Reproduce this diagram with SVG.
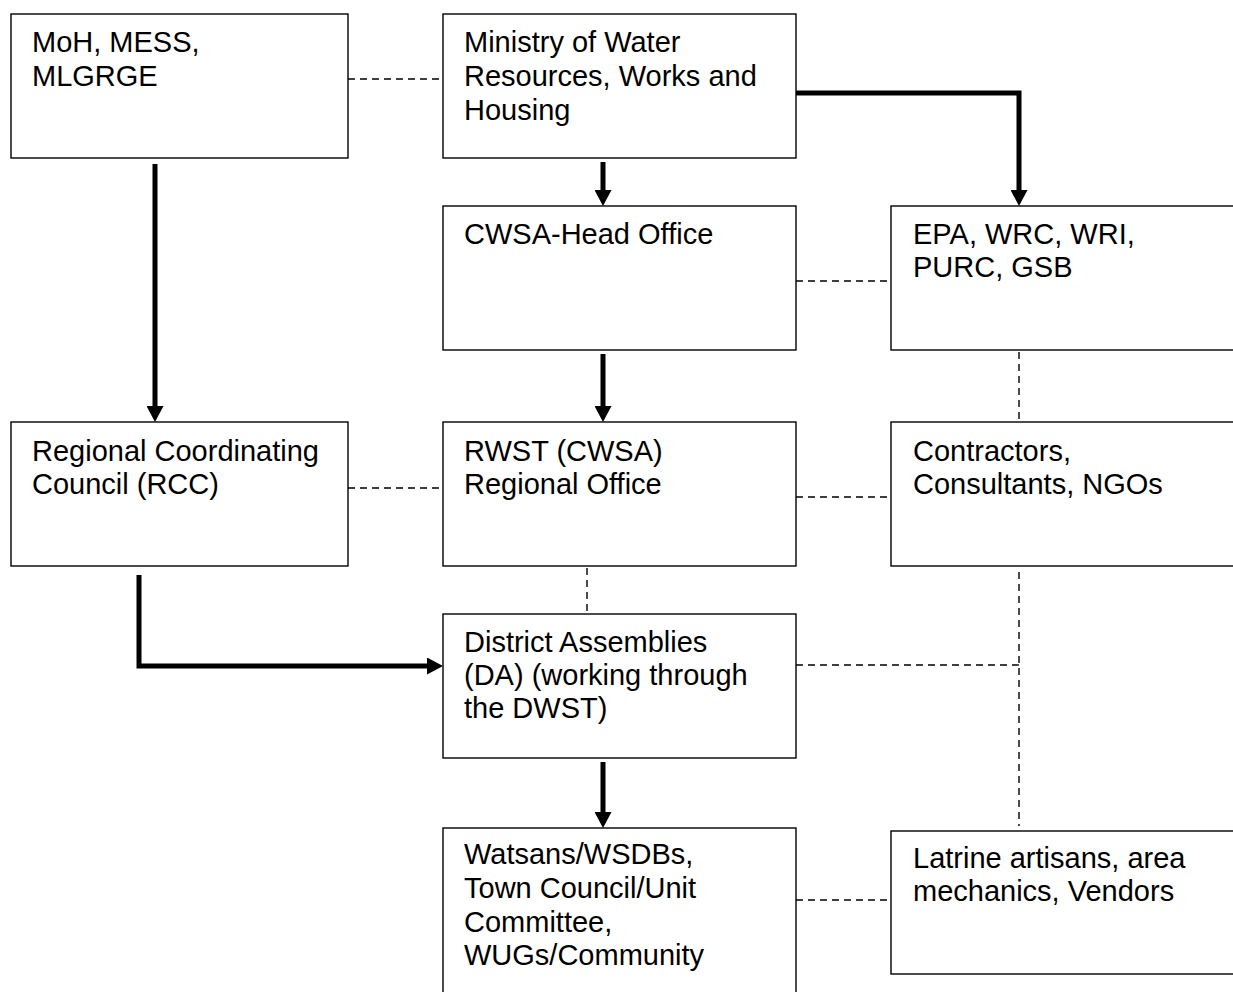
<svg xmlns="http://www.w3.org/2000/svg" width="1233" height="992" viewBox="0 0 1233 992">
<style>
.box{fill:#fff;stroke:#000;stroke-width:1.4}
.t{font-family:"Liberation Sans",Arial,sans-serif;font-size:29px;fill:#000}
.dash{fill:none;stroke:#000;stroke-width:1.4;stroke-dasharray:7 5}
.thick{fill:none;stroke:#000;stroke-width:5}
</style>
<defs>
<marker id="ah" viewBox="0 0 16 17" refX="6" refY="8.5" markerWidth="16" markerHeight="17" markerUnits="userSpaceOnUse" orient="auto">
<path d="M0,0 L16,8.5 L0,17 z" fill="#000"/>
</marker>
</defs>
<rect width="1233" height="992" fill="#fff"/>
<g id="connectors">
<line class="dash" x1="348" y1="79" x2="443" y2="79"/>
<line class="dash" x1="796" y1="281" x2="891" y2="281"/>
<line class="dash" x1="348" y1="488" x2="443" y2="488"/>
<line class="dash" x1="796" y1="497" x2="891" y2="497"/>
<line class="dash" x1="1019" y1="352" x2="1019" y2="422"/>
<line class="dash" x1="587" y1="568" x2="587" y2="614"/>
<line class="dash" x1="1019" y1="572" x2="1019" y2="826"/>
<line class="dash" x1="796" y1="665" x2="1019" y2="665"/>
<line class="dash" x1="796" y1="900" x2="891" y2="900"/>
<path class="thick" d="M796,93 L1019,93 L1019,196" marker-end="url(#ah)"/>
<path class="thick" d="M603,162 L603,196" marker-end="url(#ah)"/>
<path class="thick" d="M603,354 L603,412" marker-end="url(#ah)"/>
<path class="thick" d="M155,164 L155,412" marker-end="url(#ah)"/>
<path class="thick" d="M603,762 L603,818" marker-end="url(#ah)"/>
<path class="thick" d="M139,575 L139,666 L433,666" marker-end="url(#ah)"/>
</g>
<g id="moh">
<rect class="box" x="11" y="14" width="337" height="144"/>
<text class="t" x="32" y="52">MoH, MESS,</text>
<text class="t" x="32" y="86">MLGRGE</text>
</g>
<g id="ministry">
<rect class="box" x="443" y="14" width="353" height="144"/>
<text class="t" x="464" y="52">Ministry of Water</text>
<text class="t" x="464" y="86">Resources, Works and</text>
<text class="t" x="464" y="120">Housing</text>
</g>
<g id="cwsa">
<rect class="box" x="443" y="206" width="353" height="144"/>
<text class="t" x="464" y="244">CWSA-Head Office</text>
</g>
<g id="epa">
<rect class="box" x="891" y="206" width="360" height="144"/>
<text class="t" x="913" y="244">EPA, WRC, WRI,</text>
<text class="t" x="913" y="277">PURC, GSB</text>
</g>
<g id="rcc">
<rect class="box" x="11" y="422" width="337" height="144"/>
<text class="t" x="32" y="461">Regional Coordinating</text>
<text class="t" x="32" y="494">Council (RCC)</text>
</g>
<g id="rwst">
<rect class="box" x="443" y="422" width="353" height="144"/>
<text class="t" x="464" y="461">RWST (CWSA)</text>
<text class="t" x="464" y="494">Regional Office</text>
</g>
<g id="contractors">
<rect class="box" x="891" y="422" width="360" height="144"/>
<text class="t" x="913" y="461">Contractors,</text>
<text class="t" x="913" y="494">Consultants, NGOs</text>
</g>
<g id="da">
<rect class="box" x="443" y="614" width="353" height="144"/>
<text class="t" x="464" y="652">District Assemblies</text>
<text class="t" x="464" y="685">(DA) (working through</text>
<text class="t" x="464" y="718">the DWST)</text>
</g>
<g id="watsans">
<rect class="box" x="443" y="828" width="353" height="180"/>
<text class="t" x="464" y="864">Watsans/WSDBs,</text>
<text class="t" x="464" y="898">Town Council/Unit</text>
<text class="t" x="464" y="932">Committee,</text>
<text class="t" x="464" y="965">WUGs/Community</text>
</g>
<g id="latrine">
<rect class="box" x="891" y="831" width="360" height="143"/>
<text class="t" x="913" y="868">Latrine artisans, area</text>
<text class="t" x="913" y="901">mechanics, Vendors</text>
</g>
</svg>
